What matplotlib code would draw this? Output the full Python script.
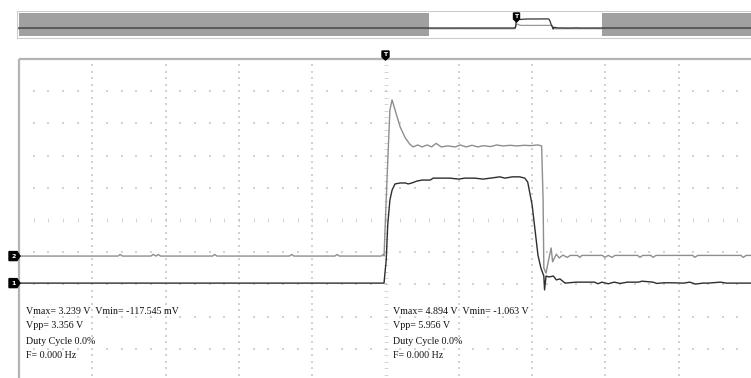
import numpy as np
import matplotlib
matplotlib.use("Agg")
import matplotlib.pyplot as plt
from matplotlib.patches import Polygon, Rectangle

# screen is 10 x 10 divisions, time and volts are given in divisions
ch1_t = [0.0, 4.98, 4.99, 5.01, 5.03, 5.06, 5.09, 5.13, 5.20, 5.27, 5.31, 5.36, 5.43,
         5.50, 5.61, 5.65, 5.74, 5.88, 6.00, 6.08, 6.22, 6.33, 6.43, 6.56, 6.63, 6.73,
         6.83, 6.90, 6.94, 7.00, 7.04, 7.08, 7.12, 7.16, 7.17, 7.19, 7.23, 7.29, 7.33,
         7.38, 7.45, 7.60, 7.85, 7.90, 7.95, 8.04, 8.12, 8.20, 8.30, 8.45, 8.50, 8.65,
         8.70, 8.80, 8.90, 9.07, 9.15, 9.23, 9.33, 9.40, 9.57, 9.65, 9.73, 10.0]
ch1_v = [-1.96, -1.96, -1.71, -1.24, -0.16, 0.62, 0.93, 1.12, 1.15, 1.15, 1.12, 1.15, 1.21,
         1.24, 1.24, 1.30, 1.30, 1.30, 1.27, 1.30, 1.30, 1.27, 1.30, 1.34, 1.30, 1.34,
         1.34, 1.30, 1.18, 0.47, -0.31, -1.09, -1.49, -1.74, -2.17, -1.74, -1.77, -1.74, -1.86,
         -1.83, -1.96, -1.93, -1.93, -1.98, -1.93, -1.98, -1.93, -1.97, -1.93, -1.93, -1.90, -1.93,
         -1.97, -1.95, -1.95, -1.96, -1.93, -1.99, -1.96, -1.96, -1.93, -1.96, -1.96, -1.96]

ch2_t = [0.0, 1.35, 1.38, 1.41, 1.80, 1.83, 1.87, 1.90, 1.93, 1.96, 2.64, 2.67, 2.70,
         3.69, 3.72, 3.75, 4.31, 4.34, 4.37, 4.94, 4.97, 4.98, 5.02, 5.06, 5.09, 5.13,
         5.20, 5.27, 5.33, 5.375, 5.44, 5.50, 5.57, 5.63, 5.69, 5.76, 5.85, 5.95, 6.02,
         6.10, 6.18, 6.26, 6.34, 6.43, 6.52, 6.60, 6.70, 6.79, 6.89, 6.98, 7.08, 7.13,
         7.15, 7.16, 7.19, 7.22, 7.26, 7.28, 7.33, 7.37, 7.42, 7.48, 7.52, 7.62, 7.65,
         7.68, 7.96, 7.99, 8.04, 8.09, 8.13, 8.44, 8.47, 8.51, 8.62, 8.65, 8.69, 9.19,
         9.22, 9.26, 9.85, 9.88, 9.92, 10.0]
ch2_v = [-1.12, -1.12, -1.07, -1.12, -1.12, -1.07, -1.12, -1.07, -1.12, -1.12, -1.12, -1.07, -1.12,
         -1.12, -1.07, -1.12, -1.12, -1.07, -1.12, -1.12, -1.07, -1.12, 1.24, 3.42, 3.73, 3.42,
         2.89, 2.55, 2.36, 2.27, 2.33, 2.27, 2.33, 2.27, 2.38, 2.27, 2.30, 2.27, 2.33,
         2.27, 2.32, 2.27, 2.31, 2.28, 2.33, 2.30, 2.32, 2.30, 2.32, 2.31, 2.33, 2.30,
         0.62, -1.49, -1.65, -1.30, -0.87, -1.30, -1.06, -1.18, -1.09, -1.16, -1.10, -1.10, -1.16,
         -1.10, -1.10, -1.16, -1.10, -1.16, -1.10, -1.10, -1.16, -1.10, -1.10, -1.16, -1.10, -1.10,
         -1.16, -1.10, -1.10, -1.16, -1.10, -1.10]

ch1_offset = -1.96
ch2_offset = -1.12
trig_t = 5.0

meas_ch1 = ["Vmax= 3.239 V  Vmin= -117.545 mV", "Vpp= 3.356 V", "Duty Cycle 0.0%", "F= 0.000 Hz"]
meas_ch2 = ["Vmax= 4.894 V  Vmin= -1.063 V", "Vpp= 5.956 V", "Duty Cycle 0.0%", "F= 0.000 Hz"]

W, H = 751, 378
c1 = "#2e2e2e"
c2 = "#8e8e8e"
border = "#b4b4b4"
dots = "#d2d2d2"

fig = plt.figure(figsize=(W / 100, H / 100), dpi=100)

# main screen: 19..752 px wide, 59..381 px tall
ax = fig.add_axes([19 / W, (H - 381) / H, 733 / W, 322 / H])
ax.set_xlim(0, 10)
ax.set_ylim(-5, 5)
ax.axis("off")

# dotted graticule
for i in range(1, 10):
    if i == 5:
        continue
    yy = np.arange(-5, 5.01, 0.2)
    ax.scatter(np.full_like(yy, i), yy, s=0.55, marker="s", color=dots, lw=0)
for j in range(-4, 5):
    if j == 0:
        continue
    xx = np.arange(0, 10.01, 0.2)
    ax.scatter(xx, np.full_like(xx, j), s=0.55, marker="s", color=dots, lw=0)
# centre axes with small ticks
xx = np.arange(0.2, 10, 0.2)
ax.scatter(xx, np.zeros_like(xx), s=5, marker="|", color="#c4c4c4", lw=0.5)
yy = np.arange(-5, 5, 0.2)
ax.scatter(np.full_like(yy, 5), yy, s=5, marker="_", color="#c4c4c4", lw=0.5)

ax.plot([0, 10.2], [5, 5], color=border, lw=1.6, clip_on=False, solid_capstyle="butt")
ax.plot([0, 0], [-5.2, 5], color=border, lw=1.6, clip_on=False, solid_capstyle="butt")

ax.plot(ch2_t, ch2_v, color=c2, lw=1.0, zorder=3)
ax.plot(ch1_t, ch1_v, color=c1, lw=1.0, zorder=4)

# overview strip: 17..751 px, 10.7..38 px; screen window maps to 429..602 px
ov = fig.add_axes([17 / W, (H - 38) / H, 735 / W, 27.3 / H])
sc = 173 / 10
ov.set_xlim((17 - 429) / sc, (752 - 429) / sc)
py = 2.77
ov.set_ylim(ch1_offset - (38 - 28) / py, ch1_offset + (28 - 10.7) / py)
ov.set_xticks([])
ov.set_yticks([])
for s in ov.spines.values():
    s.set_color("#cccccc")
    s.set_linewidth(0.8)
xl = ov.get_xlim()
y13 = ch1_offset + (28 - 13) / py
y36 = ch1_offset - (36 - 28) / py
ov.add_patch(Rectangle(((19 - 429) / sc, y36), (429 - 19) / sc, y13 - y36, color="#a0a0a0", lw=0))
ov.add_patch(Rectangle((10, y36), xl[1] - 10, y13 - y36, color="#a0a0a0", lw=0))
ov.plot(np.r_[xl[0], ch2_t, xl[1]], np.r_[ch2_v[0], ch2_v, ch2_v[-1]] * 0.35 + ch1_offset * 0.65 - 0.55,
        color="#999999", lw=0.9)
ov.plot(np.r_[xl[0], ch1_t, xl[1]], np.r_[ch1_v[0], ch1_v, ch1_v[-1]], color="#333333", lw=0.9)

# overlay in pixel units for markers and readouts
top = fig.add_axes([0, 0, 1, 1], facecolor="none")
top.set_xlim(0, W)
top.set_ylim(H, 0)
top.axis("off")


def marker_down(x, y0, label, h=9, w=7):
    top.add_patch(Polygon([(x - w / 2, y0), (x + w / 2, y0), (x + w / 2, y0 + h - 3),
                           (x, y0 + h), (x - w / 2, y0 + h - 3)], closed=True, color="black"))
    top.text(x, y0 + (h - 3) / 2 + 0.5, label, color="white", fontsize=4.5, fontweight="bold",
             ha="center", va="center")


def marker_right(y, label, x0=9, w=11, h=9):
    top.add_patch(Polygon([(x0, y - h / 2), (x0 + w - 3, y - h / 2), (x0 + w, y),
                           (x0 + w - 3, y + h / 2), (x0, y + h / 2)], closed=True, color="black"))
    top.text(x0 + (w - 3) / 2 + 0.5, y + 0.3, label, color="white", fontsize=4.5, fontweight="bold",
             ha="center", va="center")


tx_main = 19 + trig_t * 73.3
tx_ov = 429 + trig_t * sc
marker_down(tx_main, 51, "T")
marker_down(tx_ov + 1, 13, "T", h=9, w=6)
marker_right(220 - ch2_offset * 32.2, "2")
marker_right(220 - ch1_offset * 32.2, "1")

for k, (a, b) in enumerate(zip(meas_ch1, meas_ch2)):
    yk = 311 + 15 * k
    top.text(26, yk, a, fontsize=7.2, family="Liberation Serif", color="#111111", va="center")
    top.text(393, yk, b, fontsize=7.2, family="Liberation Serif", color="#111111", va="center")

fig.savefig("out.png", dpi=100)
